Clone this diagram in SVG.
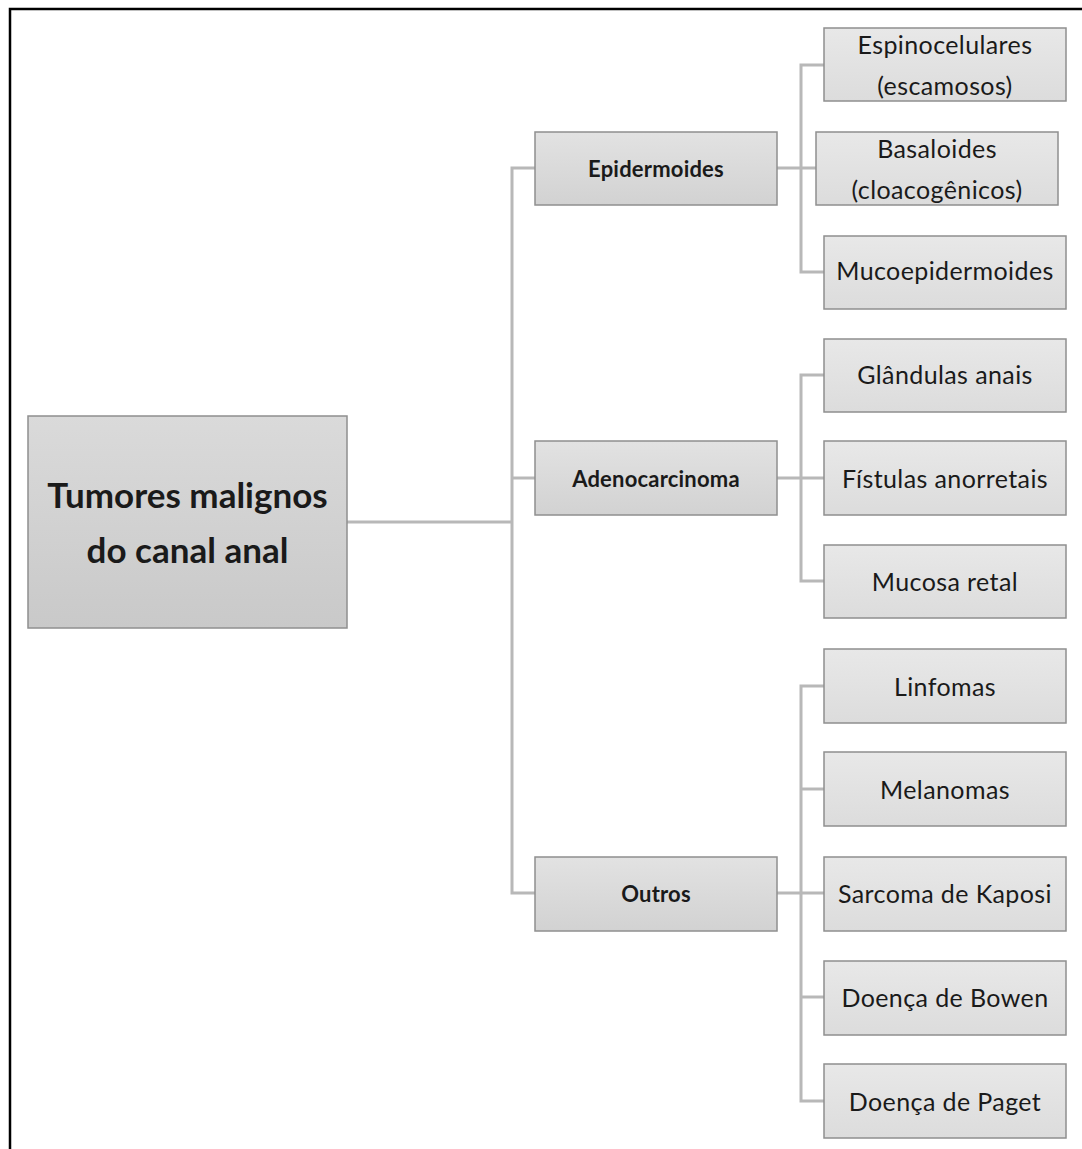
<svg xmlns="http://www.w3.org/2000/svg" width="1082" height="1149" viewBox="0 0 1082 1149">
<style>
.box{stroke:#8f8f8f;stroke-width:1.5}
.l1{fill:url(#g1)}
.l2{fill:url(#g2)}
.l3{fill:url(#g3)}
.t{font-family:Lato,"Open Sans","Liberation Sans",sans-serif;fill:#1a1a1a;text-anchor:middle;dominant-baseline:central}
.t1{font-size:35px;font-weight:bold}
.t2{font-size:22px;font-weight:bold;letter-spacing:0.2px}
.t3{font-size:25px;letter-spacing:0.4px}
.c{fill:none;stroke:#b8b8b8;stroke-width:3}
</style>
<defs>
<linearGradient id="g1" x1="0" y1="0" x2="0" y2="1"><stop offset="0" stop-color="#dadada"/><stop offset="1" stop-color="#c9c9c9"/></linearGradient>
<linearGradient id="g2" x1="0" y1="0" x2="0" y2="1"><stop offset="0" stop-color="#e2e2e2"/><stop offset="1" stop-color="#d2d2d2"/></linearGradient>
<linearGradient id="g3" x1="0" y1="0" x2="0" y2="1"><stop offset="0" stop-color="#e8e8e8"/><stop offset="1" stop-color="#dcdcdc"/></linearGradient>
</defs>
<rect x="0" y="0" width="1082" height="1149" fill="#ffffff"/>
<path d="M10,1149 V9 H1082" fill="none" stroke="#000" stroke-width="2.5"/>
<g id="connectors">
<path class="c" d="M347,522 H512"/>
<path class="c" d="M535,168 H512 V893 H535"/>
<path class="c" d="M512,478 H535"/>
<path class="c" d="M777,168 H816"/>
<path class="c" d="M824,65 H801 V272 H824"/>
<path class="c" d="M777,478 H824"/>
<path class="c" d="M824,375 H801 V581 H824"/>
<path class="c" d="M777,893 H824"/>
<path class="c" d="M824,686 H801 V1101 H824"/>
<path class="c" d="M801,789 H824"/>
<path class="c" d="M801,997 H824"/>
</g>
<g id="root"><rect class="box l1" x="28" y="416" width="319" height="212"/><text class="t t1" x="187.5" y="494">Tumores malignos</text><text class="t t1" x="187.5" y="549">do canal anal</text></g>
<g id="epidermoides"><rect class="box l2" x="535" y="132" width="242" height="73"/><text class="t t2" x="656" y="168.5">Epidermoides</text></g>
<g id="adenocarcinoma"><rect class="box l2" x="535" y="441" width="242" height="74"/><text class="t t2" x="656" y="478">Adenocarcinoma</text></g>
<g id="outros"><rect class="box l2" x="535" y="857" width="242" height="74"/><text class="t t2" x="656" y="893">Outros</text></g>
<g id="espinocelulares"><rect class="box l3" x="824" y="28" width="242" height="73"/><text class="t t3" x="945" y="44">Espinocelulares</text><text class="t t3" x="945" y="85">(escamosos)</text></g>
<g id="basaloides"><rect class="box l3" x="816" y="132" width="242" height="73"/><text class="t t3" x="937" y="148">Basaloides</text><text class="t t3" x="937" y="189">(cloacogênicos)</text></g>
<g id="mucoepidermoides"><rect class="box l3" x="824" y="236" width="242" height="73"/><text class="t t3" x="945" y="270">Mucoepidermoides</text></g>
<g id="glandulas"><rect class="box l3" x="824" y="339" width="242" height="73"/><text class="t t3" x="945" y="374">Glândulas anais</text></g>
<g id="fistulas"><rect class="box l3" x="824" y="441" width="242" height="74"/><text class="t t3" x="945" y="478">Fístulas anorretais</text></g>
<g id="mucosa"><rect class="box l3" x="824" y="545" width="242" height="73"/><text class="t t3" x="945" y="581">Mucosa retal</text></g>
<g id="linfomas"><rect class="box l3" x="824" y="649" width="242" height="74"/><text class="t t3" x="945" y="686">Linfomas</text></g>
<g id="melanomas"><rect class="box l3" x="824" y="752" width="242" height="74"/><text class="t t3" x="945" y="789">Melanomas</text></g>
<g id="sarcoma"><rect class="box l3" x="824" y="857" width="242" height="74"/><text class="t t3" x="945" y="893">Sarcoma de Kaposi</text></g>
<g id="bowen"><rect class="box l3" x="824" y="961" width="242" height="74"/><text class="t t3" x="945" y="997">Doença de Bowen</text></g>
<g id="paget"><rect class="box l3" x="824" y="1064" width="242" height="74"/><text class="t t3" x="945" y="1101">Doença de Paget</text></g>
</svg>
